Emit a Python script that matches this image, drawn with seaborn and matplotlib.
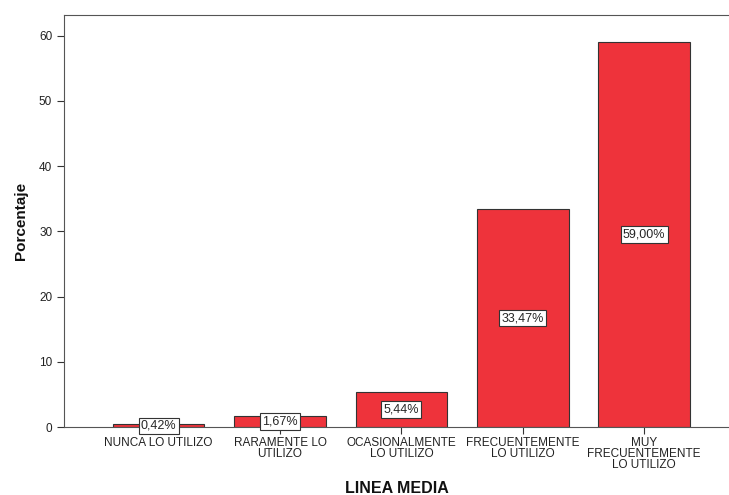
import matplotlib
matplotlib.use("Agg")
import matplotlib.pyplot as plt
import seaborn as sns
import pandas as pd

categories = ["NUNCA LO UTILIZO", "RARAMENTE LO\nUTILIZO", "OCASIONALMENTE\nLO UTILIZO",
              "FRECUENTEMENTE\nLO UTILIZO", "MUY\nFRECUENTEMENTE\nLO UTILIZO"]
values = [0.42, 1.67, 5.44, 33.47, 59.00]
value_labels = ["0,42%", "1,67%", "5,44%", "33,47%", "59,00%"]

sns.set_style("white")
plt.rcParams['font.family'] = ['Liberation Sans', 'DejaVu Sans']

df = pd.DataFrame({"cat": categories, "val": values})
fig = plt.figure(figsize=(7.29, 4.95), dpi=100)
ax = fig.add_axes([0.0878, 0.137, 0.9122, 0.833])
sns.barplot(data=df, x="cat", y="val", color="#EE333B", saturation=1, width=0.755,
            edgecolor="#333333", linewidth=0.8, ax=ax)

for i, (v, lab) in enumerate(zip(values, value_labels)):
    ax.text(i, v / 2, lab, ha="center", va="center", fontsize=9,
            bbox=dict(boxstyle="square,pad=0.18", fc="white", ec="#333333", lw=0.8))

ax.set_ylim(0, 63.2)
ax.set_xlim(-0.78, 4.70)
ax.set_yticks(range(0, 61, 10))
ax.tick_params(axis="both", direction="out", length=5, width=0.8, colors="#333333",
               labelsize=8.5, labelcolor="#222222", bottom=True, left=True)
ax.tick_params(axis="x", pad=2)
for s in ["left", "bottom", "top"]:
    ax.spines[s].set_color("#555555")
    ax.spines[s].set_linewidth(0.8)
ax.spines["right"].set_visible(False)
ax.set_xlabel("LINEA MEDIA", fontsize=11.5, fontweight="bold", labelpad=7, color="#111111")
ax.set_ylabel("Porcentaje", fontsize=11, fontweight="bold", labelpad=8, color="#111111")
for t in ax.get_xticklabels():
    t.set_linespacing(0.9)
fig.savefig("out.png", dpi=100)
